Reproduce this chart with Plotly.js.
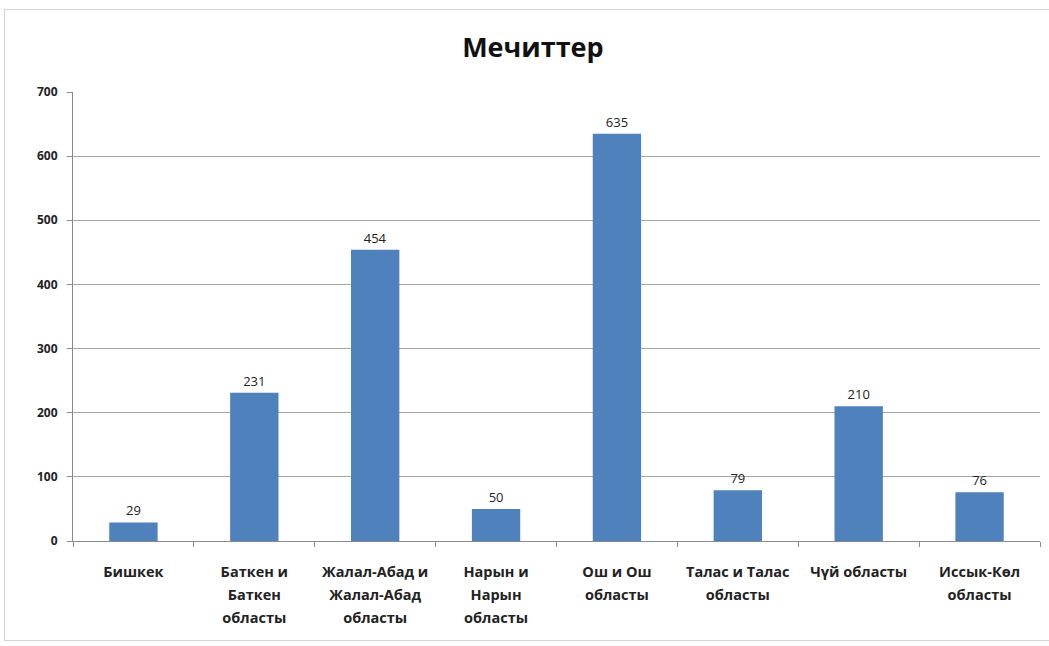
<!DOCTYPE html>
<html>
<head>
<meta charset="utf-8">
<script src="https://cdn.plot.ly/plotly-3.0.1.min.js"></script>
<style>
html,body{margin:0;padding:0;background:#fff;}
#wrap{position:relative;width:1049px;height:646px;}
#chart{position:absolute;left:0;top:0;width:1049px;height:646px;}
#frame{position:absolute;left:4px;top:9px;width:1046px;height:632px;border:1px solid #d4d4d4;box-sizing:border-box;pointer-events:none;}
</style>
</head>
<body>
<div id="wrap"><div id="chart"></div><div id="frame"></div></div>
<script>
const categories = [
  "Бишкек",
  "Баткен и<br>Баткен<br>областы",
  "Жалал-Абад и<br>Жалал-Абад<br>областы",
  "Нарын и<br>Нарын<br>областы",
  "Ош и Ош<br>областы",
  "Талас и Талас<br>областы",
  "Чүй областы",
  "Иссык-Көл<br>областы"
];
const mosques = [29, 231, 454, 50, 635, 79, 210, 76];
const yTicks = [0, 100, 200, 300, 400, 500, 600, 700];

// tick label text: wider line spacing via larger base font, glyphs drawn smaller
const tickLabels = categories.map(c =>
  c.split("<br>").map(l => '<span style="font-size:14.5px">' + l + '</span>').join("<br>")
);

const trace = {
  type: "bar",
  x: categories,
  y: mosques,
  marker: {color: "#4F81BD"},
  text: mosques.map(String),
  textposition: "outside",
  textfont: {family: "Open Sans, sans-serif", size: 13, color: "#222"},
  cliponaxis: false,
  hoverinfo: "x+y"
};

const layout = {
  width: 1049,
  height: 646,
  margin: {l: 73, r: 9, t: 92, b: 105},
  paper_bgcolor: "rgba(0,0,0,0)",
  plot_bgcolor: "#fff",
  bargap: 0.6,
  showlegend: false,
  title: {
    text: "<b>Мечиттер</b>",
    font: {family: "Open Sans, sans-serif", size: 27, color: "#111"},
    x: 0.508, xref: "container", xanchor: "center",
    y: 1 - 48/646, yref: "container", yanchor: "middle"
  },
  xaxis: {
    type: "category",
    tickmode: "array",
    tickvals: categories,
    ticktext: tickLabels,
    showline: true, linecolor: "#8a8a8a", linewidth: 1,
    ticks: "outside", tickson: "boundaries", ticklen: 5, tickcolor: "#8a8a8a",
    tickfont: {family: "Open Sans, sans-serif", size: 18, color: "#222", weight: "bold"},
    ticklabelstandoff: 13,
    showgrid: false
  },
  yaxis: {
    range: [0, 700],
    tickvals: yTicks,
    ticktext: yTicks.map(String),
    showline: true, linecolor: "#8a8a8a", linewidth: 1,
    ticks: "outside", ticklen: 5, tickcolor: "#8a8a8a",
    ticklabelstandoff: 7,
    showgrid: true, gridcolor: "#a6a6a6", gridwidth: 1,
    zeroline: false,
    tickfont: {family: "Open Sans, sans-serif", size: 12, color: "#222", weight: "bold"}
  },
  font: {family: "Open Sans, sans-serif"}
};

Plotly.newPlot("chart", [trace], layout, {displayModeBar: false, staticPlot: true});
</script>
</body>
</html>
